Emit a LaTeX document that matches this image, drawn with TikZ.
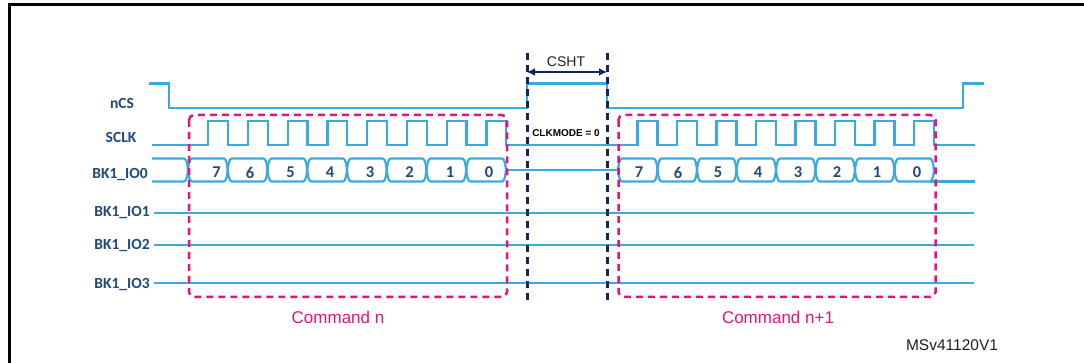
\documentclass[tikz,border=0pt]{standalone}
\usepackage{fontspec}
\setmainfont{Liberation Sans}
\newfontfamily\calib{Carlito}
\usetikzlibrary{arrows.meta}
\definecolor{sigblue}{RGB}{58,170,222}
\definecolor{labblue}{RGB}{31,73,125}
\definecolor{navyc}{RGB}{20,35,90}
\definecolor{magent}{RGB}{224,20,124}
\definecolor{inkc}{RGB}{30,30,30}
\begin{document}
\begin{tikzpicture}[x=1pt,y=-1pt,
  sig/.style={draw=sigblue, line width=2.2pt, line join=miter},
  siglab/.style={font=\calib\bfseries\fontsize{15.5}{18}\selectfont, text=labblue, inner sep=0pt},
  numlbl/.style={font=\calib\bfseries\fontsize{16.5}{19}\selectfont, text=labblue, inner sep=0pt},
  cmdbox/.style={draw=magent, line width=2.5pt, dash pattern=on 7pt off 5pt, rounded corners=5pt},
  csline/.style={draw=navyc, line width=3pt, dash pattern=on 7pt off 5pt},
  cmdlab/.style={font=\fontsize{17}{20}\selectfont, text=magent, inner sep=0pt},
  plainlab/.style={font=\fontsize{14}{17}\selectfont, text=inkc, inner sep=0pt}]
\useasboundingbox (0,0) rectangle (1084,363);
\def\yT{158.5}\def\yB{181.5}\def\yM{170}\def\sl{4}
% frame
\draw[line width=2.6pt] (9.6,370) -- (9.6,4.7) -- (1090,4.7);
% signal labels
\node[siglab] (lncs)  at (122,103) {nCS};
\node[siglab] (lsclk) at (121,137) {SCLK};
\node[siglab] (lio0)  at (120,175) {BK1\_IO0};
\node[siglab] (lio1)  at (122,213) {BK1\_IO1};
\node[siglab] (lio2)  at (122,246) {BK1\_IO2};
\node[siglab] (lio3)  at (122,285) {BK1\_IO3};
% nCS
\draw[sig] (149,83.5) -- (169,83.5) -- (169,108) -- (527,108) -- (527,83.5)
  -- (607,83.5) -- (607,108) -- (963,108) -- (963,83.5) -- (984,83.5);
% SCLK
\draw[sig] (152,145)
  foreach \k in {0,...,7} { -- ({208.25+39.75*\k},145) -- ({208.25+39.75*\k},121)
     -- ({228+39.75*\k},121) -- ({228+39.75*\k},145) }
  -- (637.5,145)
  foreach \k in {0,...,7} { -- ({637.5+39.5*\k},145) -- ({637.5+39.5*\k},121)
     -- ({657.5+39.5*\k},121) -- ({657.5+39.5*\k},145) }
  -- (975,145);
% BK1_IO0 bus
\draw[sig] (152,\yT) -- (184,\yT) .. controls (186.5,\yT) and (187.5,\yM-5) .. (188,\yM)
  .. controls (187.5,\yM+5) and (186.5,\yB) .. (184,\yB) -- (152,\yB);
\foreach \k in {0,...,7} {
  \pgfmathsetmacro\ca{188+39.75*\k}\pgfmathsetmacro\cb{188+39.75*(\k+1)}
  \draw[sig] (\ca,\yM) .. controls (\ca+0.5,\yM-5) and (\ca+1.5,\yT) .. (\ca+\sl,\yT)
    -- (\cb-\sl,\yT) .. controls (\cb-1.5,\yT) and (\cb-0.5,\yM-5) .. (\cb,\yM)
    .. controls (\cb-0.5,\yM+5) and (\cb-1.5,\yB) .. (\cb-\sl,\yB)
    -- (\ca+\sl,\yB) .. controls (\ca+1.5,\yB) and (\ca+0.5,\yM+5) .. (\ca,\yM) -- cycle;
  \pgfmathsetmacro\da{618+39.5*\k}\pgfmathsetmacro\db{618+39.5*(\k+1)}
  \draw[sig] (\da,\yM) .. controls (\da+0.5,\yM-5) and (\da+1.5,\yT) .. (\da+\sl,\yT)
    -- (\db-\sl,\yT) .. controls (\db-1.5,\yT) and (\db-0.5,\yM-5) .. (\db,\yM)
    .. controls (\db-0.5,\yM+5) and (\db-1.5,\yB) .. (\db-\sl,\yB)
    -- (\da+\sl,\yB) .. controls (\da+1.5,\yB) and (\da+0.5,\yM+5) .. (\da,\yM) -- cycle;
}
\draw[sig] (506,\yM) -- (618,\yM);
\draw[sig] (930,\yB) -- (975,\yB);
\foreach \x/\l [count=\i] in {216.5/7,250/6,290.5/5,330/4,370/3,409.5/2,450/1,489/0} {
  \node[numlbl] (na\i) at (\x,172.5) {\l};
}
\foreach \x/\l [count=\i] in {639/7,678/6,718/5,758/4,798/3,837/2,877/1,917/0} {
  \node[numlbl] (nb\i) at (\x,172.5) {\l};
}
% BK1_IO1..3
\draw[sig] (154,213) -- (974,213);
\draw[sig] (154,245) -- (974,245);
\draw[sig] (154,283) -- (974,283);
% CSHT markers
\draw[csline] (527,53) -- (527,301);
\draw[csline] (607,53) -- (607,301);
\coordinate (csa) at (527,72);
\coordinate (csb) at (607,72);
\draw[navyc, line width=1.8pt, {Latex[length=8pt,width=8pt]}-{Latex[length=8pt,width=8pt]}] (csa) -- (csb);
\node[plainlab] (csht) at (566,62) {CSHT};
\node[font=\bfseries\fontsize{10}{12}\selectfont, text=black, inner sep=0pt] (clkm) at (566,133) {CLKMODE = 0};
% command boxes
\draw[cmdbox] (189,115) rectangle (507,297);
\draw[cmdbox] (618.5,115) rectangle (935.5,297);
\node[cmdlab] (cmdn) at (338,317) {Command n};
\node[cmdlab] (cmdn1) at (778,317) {Command n+1};
\node[font=\fontsize{15.5}{18}\selectfont, text=inkc, inner sep=0pt] (ref) at (952,345) {MSv41120V1};
\end{tikzpicture}
\end{document}
